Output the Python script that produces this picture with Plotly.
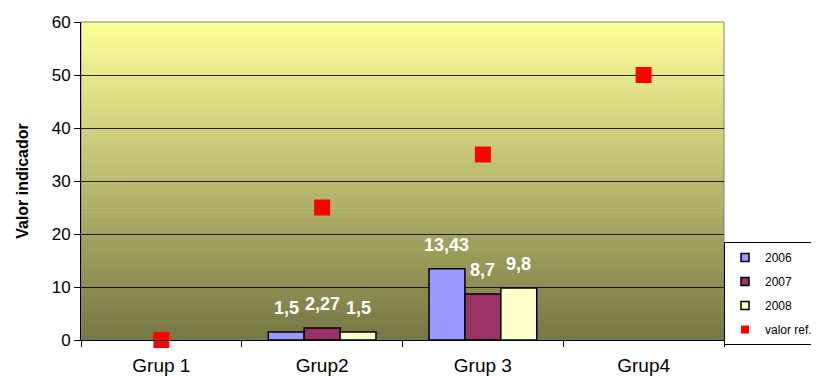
import plotly.graph_objects as go

categories = ["Grup 1", "Grup2", "Grup 3", "Grup4"]
v2006 = [None, 1.5, 13.43, None]
v2007 = [None, 2.27, 8.7, None]
v2008 = [None, 1.5, 9.8, None]
valor_ref = [0, 25, 35, 50]
y_ticks = [0, 10, 20, 30, 40, 50, 60]


def lab(v):
    return str(v).replace(".", ",")


W, H = 811, 368
ML, MR, MT, MB = 73, 95, 14, 36
BARGAP = 0.33

fig = go.Figure()
series = [("2006", v2006, "#9999FF"), ("2007", v2007, "#993366"), ("2008", v2008, "#FFFFCC")]
plot_w = W - ML - MR
bar_px = plot_w / len(categories) * (1 - BARGAP) / len(series)
annotations = []
for si, (name, vals, col) in enumerate(series):
    fig.add_trace(go.Bar(
        x=categories, y=vals, name=name, showlegend=False,
        marker=dict(color=col, line=dict(color="black", width=1.5)),
    ))
    # legend entry with small square swatch
    fig.add_trace(go.Scatter(
        x=[None], y=[None], name=name, mode="markers", legendgroup=name,
        marker=dict(symbol="square", size=8, color=col, line=dict(color="black", width=1.5)),
    ))
    for c, v in zip(categories, vals):
        if v is None:
            continue
        annotations.append(dict(
            x=c, y=v, xref="x", yref="y", text="<b>%s</b>" % lab(v), showarrow=False,
            xshift=(si - 1) * bar_px, yshift=24, yanchor="middle",
            font=dict(family="Arial", size=18, color="white"),
        ))
fig.add_trace(go.Scatter(
    x=categories, y=valor_ref, name="valor ref.", mode="markers", showlegend=False,
    marker=dict(symbol="square", size=16, color="#FF0000"), cliponaxis=False,
))
fig.add_trace(go.Scatter(
    x=[None], y=[None], name="valor ref.", mode="markers", legendgroup="ref",
    marker=dict(symbol="square", size=8, color="#FF0000"),
))

# vertical gradient background (yellow top -> olive bottom)
top = (255, 255, 153)
bot = (118, 118, 68)
n = 80
shapes = []
for i in range(n):
    t = (i + 0.5) / n
    c = tuple(int(round(bot[k] + (top[k] - bot[k]) * t)) for k in range(3))
    shapes.append(dict(type="rect", xref="x domain", yref="y domain",
                       x0=0, x1=1, y0=i / n, y1=(i + 1) / n + 0.002,
                       fillcolor="rgb(%d,%d,%d)" % c, line=dict(width=0), layer="below"))
shapes.append(dict(type="rect", xref="x domain", yref="y domain", x0=0, x1=1, y0=0, y1=1,
                   line=dict(color="#808080", width=1), layer="below"))

# page has an 8px body margin, so the figure is offset by 8px
fig.update_layout(
    width=W, height=H,
    margin=dict(l=ML, r=MR, t=MT, b=MB, autoexpand=False),
    paper_bgcolor="white", plot_bgcolor="rgba(0,0,0,0)",
    barmode="group", bargap=BARGAP, bargroupgap=0,
    shapes=shapes, annotations=annotations,
    font=dict(family="Arial", color="black"),
    showlegend=True,
    legend=dict(x=1.0, y=0.308, xanchor="left", yanchor="top",
                bgcolor="white", bordercolor="black", borderwidth=1,
                font=dict(size=12, family="Arial"), tracegroupgap=5,
                itemwidth=30),
    xaxis=dict(showline=True, linecolor="black", linewidth=1, automargin=False,
               ticks="outside", ticklen=6, tickcolor="black", tickson="boundaries",
               tickfont=dict(size=19), ticklabelstandoff=8, showgrid=False),
    yaxis=dict(range=[0, 60], tickvals=y_ticks, showline=True, linecolor="black", linewidth=1,
               automargin=False,
               ticks="outside", ticklen=6, tickcolor="black",
               tickfont=dict(size=17), showgrid=True, gridcolor="rgba(0,0,0,0.85)", gridwidth=1,
               zeroline=False,
               title=dict(text="<b>Valor indicador</b>", font=dict(size=16), standoff=19)),
)

fig.write_html("out.html")
